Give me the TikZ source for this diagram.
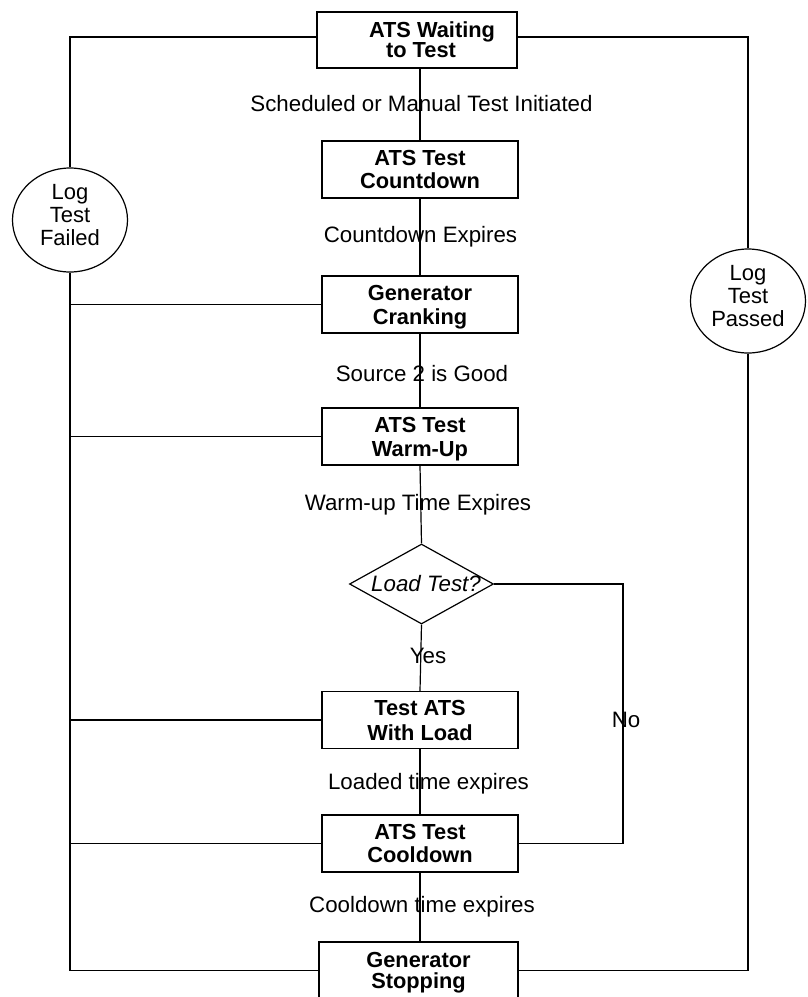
\documentclass[tikz,border=0pt]{standalone}
\usepackage{fontspec}
\setmainfont{Liberation Sans}
\usetikzlibrary{shapes.geometric}
\newcommand\twolines[2]{\rule{0pt}{20.6pt}#1\\#2\rule[-5pt]{0pt}{5pt}}
\begin{document}
\begin{tikzpicture}[x=1pt,y=-1pt,
  line width=1.2pt,
  statebox/.style={draw, rectangle, inner sep=0pt, minimum width=196pt, minimum height=57pt, align=center},
  lsk/.style={font=\fontsize{21.8}{#1}\selectfont\bfseries},
  logcircle/.style={draw, ellipse, inner sep=0pt, minimum width=115pt, minimum height=104pt, align=center, font=\fontsize{22}{23}\selectfont},
  decision/.style={draw, diamond, aspect=1.8, inner sep=0pt, minimum width=144pt, minimum height=80pt, font=\fontsize{22.3}{24}\selectfont\itshape},
  edgelabel/.style={anchor=base, inner sep=0pt, font=\fontsize{22.3}{24}\selectfont}
]
\useasboundingbox (0,0) rectangle (808,997);
\clip (0,0) rectangle (808,997);

% states
\node[statebox, lsk=20, minimum width=200pt, minimum height=56pt] (top) at (417,40) {\twolines{\hspace*{30pt}ATS Waiting}{\hspace*{8pt}to Test}};
\node[statebox, lsk=23] (cd) at (420,169.5) {\twolines{ATS Test}{Countdown}};
\node[statebox, lsk=24] (crank) at (420,304.5) {\twolines{Generator}{Cranking}};
\node[statebox, lsk=24] (warm) at (420,436.5) {\twolines{ATS Test}{Warm-Up}};
\node[decision] (dec) at (421.5,584) {\makebox[0pt]{\hspace*{9pt}Load Test?}};
\node[statebox, lsk=25] (load) at (420,720) {\twolines{Test ATS}{With Load}};
\node[statebox, lsk=23] (cool) at (420,843.5) {\twolines{ATS Test}{Cooldown}};
\node[statebox, lsk=21, minimum width=199pt] (stop) at (418.5,970.5) {\twolines{Generator}{Stopping}};

% log circles
\node[logcircle] (fail) at (70,220) {Log\\Test\\Failed\rule[-10pt]{0pt}{10pt}};
\node[logcircle] (pass) at (748,301) {Log\\Test\\Passed\rule[-10pt]{0pt}{10pt}};

% main flow
\draw (cd.north) -- (cd.north |- top.south);
\draw (cd.south) -- (crank.north);
\draw (crank.south) -- (warm.north);
\draw (warm.south) -- (dec.north);
\draw (dec.south) -- (load.north);
\draw (load.south) -- (cool.north);
\draw (cool.south) -- (cool.south |- stop.north);

% No branch
\coordinate (nx) at (623,584);
\draw (dec.east) -- (nx) |- (cool.east);

% failure bus
\draw ([yshift=3pt]top.west) -| (fail.north);
\draw (fail.south) |- (stop.west);
\draw (crank.west) -- (crank.west -| fail.south);
\draw (warm.west) -- (warm.west -| fail.south);
\draw (load.west) -- (load.west -| fail.south);
\draw (cool.west) -- (cool.west -| fail.south);

% pass bus
\draw ([yshift=3pt]top.east) -| (pass.north);
\draw (pass.south) |- (stop.east);

% labels
\node[edgelabel] (l1) at (421.5,111) {Scheduled or Manual Test Initiated};
\node[edgelabel] (l2) at (420.5,242) {Countdown Expires};
\node[edgelabel] (l3) at (422,381) {Source 2 is Good};
\node[edgelabel] (l4) at (418,510) {Warm-up Time Expires};
\node[edgelabel] (l5) at (428,663) {Yes};
\node[edgelabel] (l6) at (626,727) {No};
\node[edgelabel] (l7) at (428.5,789) {Loaded time expires};
\node[edgelabel] (l8) at (422,912) {Cooldown time expires};
\end{tikzpicture}
\end{document}
